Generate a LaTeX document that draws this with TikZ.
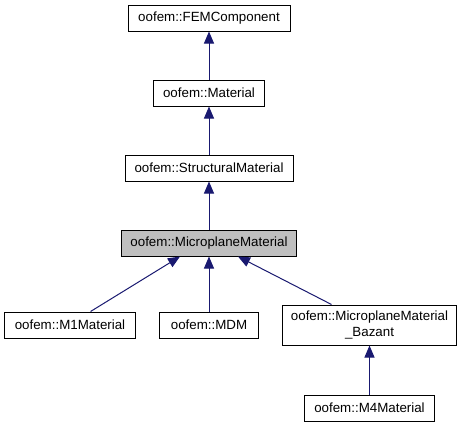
\documentclass[tikz,border=0pt]{standalone}
\usepackage{fontspec}
\setmainfont{Liberation Sans}
\usetikzlibrary{arrows.meta,positioning}
\usepackage{xcolor}
\definecolor{edgeblue}{RGB}{25,25,112}
\definecolor{boxgray}{RGB}{191,191,191}
\definecolor{lineblack}{RGB}{0,0,0}

\begin{document}
\begin{tikzpicture}[
  x=0.75pt, y=-0.75pt,
  node distance=36pt and 17.25pt,
  cls/.style={rectangle, draw=lineblack, align=center, font=\fontsize{10}{11.5}\selectfont, minimum height=19.5pt, inner sep=1pt, line width=0.75pt},
  arr/.style={{Triangle[length=9pt,width=7.5pt]}-, draw=edgeblue, line width=0.75pt}
]
\useasboundingbox (0,0) rectangle (463,425);
\node[cls, minimum width=121.5pt] (fem) at (209,18) {oofem::FEMComponent};
\node[cls, minimum width=83.25pt, below=of fem] (mat) {oofem::Material};
\node[cls, minimum width=126pt, below=of mat] (struct) {oofem::StructuralMaterial};
\node[cls, minimum width=131.25pt, fill=boxgray, below=of struct] (micro) {oofem::MicroplaneMaterial};
\node[cls, minimum width=74.25pt, below=41.25pt of micro] (mdm) {oofem::MDM};
\node[cls, minimum width=98.25pt, left=of mdm] (m1) {oofem::M1Material};
\node[cls, minimum width=130.5pt, minimum height=30pt, right=of mdm] (bazant) {oofem::MicroplaneMaterial\\\_Bazant};
\node[cls, minimum width=97.5pt, below=36.75pt of bazant] (m4) {oofem::M4Material};

\draw[arr] (fem) -- (mat);
\draw[arr] (mat) -- (struct);
\draw[arr] (struct) -- (micro);
\draw[arr] ([xshift=-21.75pt]micro.south) -- ([xshift=15.4pt]m1.north);
\draw[arr] (micro) -- (mdm);
\draw[arr] ([xshift=21.75pt]micro.south) -- ([xshift=-28.5pt]bazant.north);
\draw[arr] (bazant) -- (m4);
\end{tikzpicture}
\end{document}
